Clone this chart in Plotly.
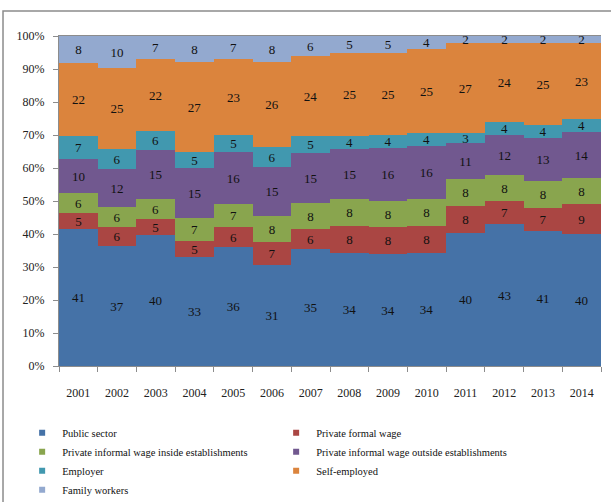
import plotly.graph_objects as go

years = ["2001", "2002", "2003", "2004", "2005", "2006", "2007",
         "2008", "2009", "2010", "2011", "2012", "2013", "2014"]

public_sector = [41, 37, 40, 33, 36, 31, 35, 34, 34, 34, 40, 43, 41, 40]
private_formal = [5, 6, 5, 5, 6, 7, 6, 8, 8, 8, 8, 7, 7, 9]
informal_inside = [6, 6, 6, 7, 7, 8, 8, 8, 8, 8, 8, 8, 8, 8]
informal_outside = [10, 12, 15, 15, 16, 15, 15, 15, 16, 16, 11, 12, 13, 14]
employer = [7, 6, 6, 5, 5, 6, 5, 4, 4, 4, 3, 4, 4, 4]
self_employed = [22, 25, 22, 27, 23, 26, 24, 25, 25, 25, 27, 24, 25, 23]
family_workers = [8, 10, 7, 8, 7, 8, 6, 5, 5, 4, 2, 2, 2, 2]

series = [
    ("Public sector", public_sector, "#4572A7"),
    ("Private formal wage", private_formal, "#AA4643"),
    ("Private informal wage inside establishments", informal_inside, "#89A54E"),
    ("Private informal wage outside establishments", informal_outside, "#71588F"),
    ("Employer", employer, "#4198AF"),
    ("Self-employed", self_employed, "#DB843D"),
    ("Family workers", family_workers, "#93A9CF"),
]

FONT = "Liberation Serif, Times New Roman, serif"

fig = go.Figure()
for name, vals, color in series:
    fig.add_trace(go.Bar(
        x=years, y=vals, name=name,
        marker=dict(color=color, line=dict(width=0)),
        text=[str(v) for v in vals],
        textposition="inside", insidetextanchor="middle", textangle=0,
        textfont=dict(family=FONT, size=13, color="#111111"),
        showlegend=False, hoverinfo="skip",
    ))

# small square swatches for the legend
for name, vals, color in series:
    fig.add_trace(go.Scatter(
        x=[None], y=[None], name=name, mode="markers",
        marker=dict(symbol="square", size=6, color=color),
    ))

# outer frame of the chart
fig.add_shape(type="rect", xref="paper", yref="paper",
              x0=-0.1033, x1=1.2, y0=-0.6, y1=1.0758,
              line=dict(color="#8c8c8c", width=1.5), layer="below")

fig.update_layout(
    width=611, height=502,
    margin=dict(l=59, r=10, t=36, b=136, autoexpand=False),
    paper_bgcolor="white", plot_bgcolor="white",
    barmode="stack", barnorm="percent", bargap=0,
    uniformtext=dict(minsize=13, mode="show"),
    font=dict(family=FONT, size=12, color="#222222"),
    xaxis=dict(
        type="category", tickson="boundaries",
        ticks="outside", ticklen=5, tickcolor="#8c8c8c",
        showline=True, linecolor="#8c8c8c", linewidth=1, mirror=True,
        showgrid=False, ticklabelstandoff=16,
        tickfont=dict(family=FONT, size=12, color="#222222"),
    ),
    yaxis=dict(
        range=[0, 100], dtick=10, ticksuffix="%",
        ticks="outside", ticklen=5, tickcolor="#8c8c8c",
        showline=True, linecolor="#8c8c8c", linewidth=1,
        showgrid=False, zeroline=False, ticklabelstandoff=6,
        tickfont=dict(family=FONT, size=12, color="#222222"),
    ),
    legend=dict(
        orientation="h", x=-0.068, xanchor="left", y=-0.158, yanchor="top",
        entrywidth=209, entrywidthmode="pixels", traceorder="normal",
        font=dict(family=FONT, size=10.5, color="#111111"),
        itemwidth=30, bgcolor="rgba(0,0,0,0)", tracegroupgap=0,
    ),
)

fig.write_html("out.html")
